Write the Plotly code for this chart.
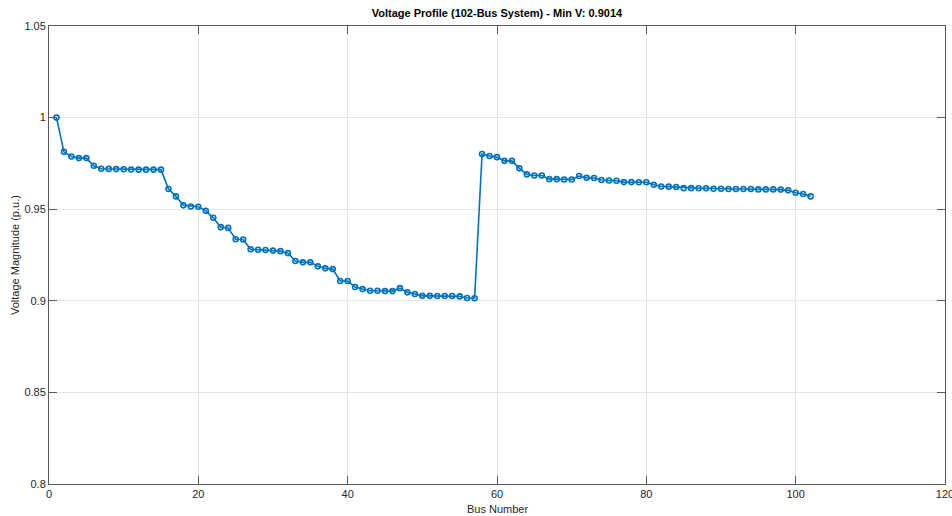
import plotly.graph_objects as go

bus_numbers = list(range(1, 103))
voltages = [
    1.0000, 0.9813, 0.9788, 0.9779, 0.9779, 0.9737, 0.9721, 0.9720, 0.9719, 0.9718,
    0.9717, 0.9716, 0.9716, 0.9716, 0.9716, 0.9610, 0.9570, 0.9521, 0.9515, 0.9513,
    0.9491, 0.9453, 0.9402, 0.9398, 0.9336, 0.9335, 0.9281, 0.9279, 0.9277, 0.9274,
    0.9271, 0.9260, 0.9217, 0.9210, 0.9210, 0.9188, 0.9177, 0.9173, 0.9108, 0.9108,
    0.9075, 0.9064, 0.9055, 0.9055, 0.9053, 0.9053, 0.9069, 0.9046, 0.9037, 0.9027,
    0.9027, 0.9026, 0.9026, 0.9026, 0.9024, 0.9015, 0.9014, 0.9801, 0.9790, 0.9784,
    0.9764, 0.9764, 0.9723, 0.9690, 0.9684, 0.9684, 0.9664, 0.9664, 0.9662, 0.9662,
    0.9681, 0.9671, 0.9670, 0.9659, 0.9657, 0.9655, 0.9648, 0.9648, 0.9647, 0.9647,
    0.9633, 0.9624, 0.9623, 0.9621, 0.9615, 0.9615, 0.9614, 0.9614, 0.9612, 0.9612,
    0.9610, 0.9610, 0.9610, 0.9610, 0.9608, 0.9608, 0.9608, 0.9607, 0.9603, 0.9590,
    0.9583, 0.9570,
]

x_tick_vals = [0, 20, 40, 60, 80, 100, 120]
x_tick_text = ["0", "20", "40", "60", "80", "100", "120"]
y_tick_vals = [0.8, 0.85, 0.9, 0.95, 1.0, 1.05]
y_tick_text = ["0.8", "0.85", "0.9", "0.95", "1", "1.05"]

title_text = "Voltage Profile (102-Bus System) - Min V: 0.9014"
x_title = "Bus Number"
y_title = "Voltage Magnitude (p.u.)"

FONT = "Liberation Sans, Arial, sans-serif"
AX = "#262626"

fig = go.Figure()
fig.add_trace(go.Scatter(
    x=bus_numbers, y=voltages, mode="lines+markers",
    line=dict(color="#0072BD", width=1.6),
    marker=dict(symbol="circle-open", size=5, color="#0072BD", line=dict(width=1.6)),
    showlegend=False,
))

axis_common = dict(
    showgrid=True, gridcolor="#e5e5e5", gridwidth=1,
    showline=True, linecolor="#5a5a5a", linewidth=1, mirror="ticks",
    ticks="inside", ticklen=8, tickcolor="#5a5a5a", tickwidth=1,
    zeroline=False, tickfont=dict(family=FONT, size=11, color=AX),
    ticklabeloverflow="allow", automargin=False,
)

fig.update_layout(
    width=952, height=516,
    margin=dict(l=49, r=7, t=26, b=32),
    paper_bgcolor="white", plot_bgcolor="white",
    title=dict(text="<b>" + title_text + "</b>", x=0.522, xanchor="center",
               y=0.975, yanchor="middle",
               font=dict(family=FONT, size=11, color="#000")),
    xaxis=dict(range=[0, 120], tickvals=x_tick_vals, ticktext=x_tick_text, **axis_common),
    yaxis=dict(range=[0.8, 1.05], tickvals=y_tick_vals, ticktext=y_tick_text, **axis_common),
    annotations=[
        dict(text=x_title, xref="paper", yref="paper", x=0.5, y=0,
             xanchor="center", yanchor="middle", yshift=-25, showarrow=False,
             font=dict(family=FONT, size=11, color=AX)),
        dict(text=y_title, xref="paper", yref="paper", x=0, y=0.5,
             xanchor="center", yanchor="middle", xshift=-34, textangle=-90,
             showarrow=False, font=dict(family=FONT, size=11, color=AX)),
    ],
)

fig.write_html("out.html")
